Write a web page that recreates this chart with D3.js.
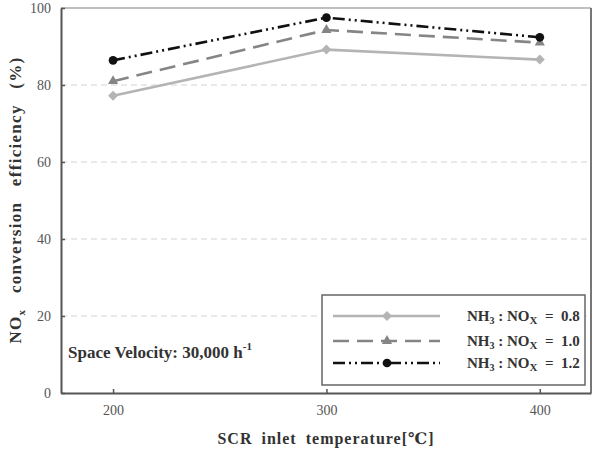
<!DOCTYPE html>
<html>
<head>
<meta charset="utf-8">
<title>NOx conversion efficiency</title>
<script src="https://d3js.org/d3.v7.min.js"></script>
<style>
  body { margin: 0; background: #fff; }
</style>
</head>
<body>
<div id="chart"></div>
<script>
// data
const temps = [200, 300, 400];
const ratio08 = [77.2, 89.2, 86.6];
const ratio10 = [81.0, 94.3, 91.0];
const ratio12 = [86.4, 97.5, 92.4];
const yTicks = [0, 20, 40, 60, 80, 100];
const seriesNames = ["0.8", "1.0", "1.2"];

const W = 599, H = 450;
const margin = {top: 8, right: 8, bottom: 57, left: 61};
const w = W - margin.left - margin.right;
const h = H - margin.top - margin.bottom;

const svg = d3.select("#chart").append("svg")
    .attr("width", W).attr("height", H)
    .style("font-family", "'Liberation Serif', 'DejaVu Serif', serif");

const g = svg.append("g")
    .attr("transform", "translate(" + margin.left + "," + margin.top + ")");

const x = d3.scaleLinear().domain([175.6, 424]).range([0, w]);
const y = d3.scaleLinear().domain([0, 100]).range([h, 0]);

// gridlines
g.selectAll(".grid").data(yTicks.filter(d => d > 0 && d < 100)).enter()
  .append("line")
    .attr("x1", 0).attr("x2", w)
    .attr("y1", d => y(d)).attr("y2", d => y(d))
    .attr("stroke", "#d4d4d4").attr("stroke-width", 1.2)
    .attr("stroke-dasharray", "6,4");

// frame top / right
g.append("line").attr("x1", 0).attr("x2", w).attr("y1", 0).attr("y2", 0)
  .attr("stroke", "#aaa").attr("stroke-width", 1.5);
g.append("line").attr("x1", w).attr("x2", w).attr("y1", 0).attr("y2", h)
  .attr("stroke", "#777").attr("stroke-width", 2);

// axes
const xAxis = d3.axisBottom(x).tickValues(temps).tickSize(-4).tickSizeOuter(0).tickPadding(12);
const yAxis = d3.axisLeft(y).tickValues(yTicks).tickSize(4).tickSizeOuter(0).tickPadding(6);

const gx = g.append("g").attr("transform", "translate(0," + h + ")").call(xAxis);
const gy = g.append("g").call(yAxis);
[gx, gy].forEach(a => {
  a.select(".domain").attr("stroke", "#555").attr("stroke-width", 2);
  a.selectAll(".tick line").attr("stroke", "#555").attr("stroke-width", 1.5);
  a.selectAll(".tick text").attr("fill", "#555").attr("font-size", "14px")
    .attr("font-family", "'Liberation Serif', serif");
});
gy.selectAll(".tick line").attr("x2", 4);

// series
const series = [
  {vals: ratio08, color: "#b4b4b4", dash: null, shape: d3.symbolSquare, size: 50, rot: 45},
  {vals: ratio10, color: "#858585", dash: "16,8", shape: d3.symbolTriangle, size: 45, rot: 0},
  {vals: ratio12, color: "#111", dash: "12,4,2,4,2,4", shape: d3.symbolCircle, size: 60, rot: 0}
];

const line = d3.line().x((d, i) => x(temps[i])).y(d => y(d));

series.forEach(s => {
  g.append("path").datum(s.vals)
    .attr("d", line)
    .attr("fill", "none")
    .attr("stroke", s.color)
    .attr("stroke-width", 2.6)
    .attr("stroke-dasharray", s.dash);
  g.selectAll(null).data(s.vals).enter().append("path")
    .attr("d", d3.symbol().type(s.shape).size(s.size))
    .attr("transform", (d, i) => "translate(" + x(temps[i]) + "," + y(d) + ") rotate(" + s.rot + ")")
    .attr("fill", s.color);
});

// legend
const lg = svg.append("g").attr("transform", "translate(322,295)");
lg.append("rect").attr("width", 263).attr("height", 90)
  .attr("fill", "#fff").attr("stroke", "#666").attr("stroke-width", 1.5);
const rowY = [21, 46, 68];
series.forEach((s, i) => {
  lg.append("line").attr("x1", 11).attr("x2", 118).attr("y1", rowY[i]).attr("y2", rowY[i])
    .attr("stroke", s.color).attr("stroke-width", 2.6).attr("stroke-dasharray", s.dash);
  lg.append("path").attr("d", d3.symbol().type(s.shape).size(s.size))
    .attr("transform", "translate(65," + rowY[i] + ") rotate(" + s.rot + ")").attr("fill", s.color);
  const t = lg.append("text").attr("x", 145).attr("y", rowY[i] + 5)
    .attr("font-size", "15px").attr("font-weight", "bold").attr("fill", "#333");
  t.append("tspan").text("NH");
  t.append("tspan").attr("font-size", "10px").attr("dy", 3).text("3");
  t.append("tspan").attr("dy", -3).text(" : NO");
  t.append("tspan").attr("font-size", "11px").attr("dy", 3).text("X");
  t.append("tspan").attr("dy", -3).attr("xml:space", "preserve").text("  =  " + seriesNames[i]);
});

// annotation
const sv = svg.append("text").attr("x", 68).attr("y", 358)
  .attr("font-size", "17px").attr("font-weight", "bold").attr("fill", "#333");
sv.append("tspan").text("Space Velocity: 30,000 h");
sv.append("tspan").attr("font-size", "11px").attr("dy", -8).text("-1");

// axis titles
svg.append("text").attr("x", 326).attr("y", 444)
  .attr("text-anchor", "middle").attr("font-size", "16px").attr("font-weight", "bold")
  .attr("fill", "#333").attr("letter-spacing", "1px").attr("word-spacing", "4px")
  .text("SCR inlet temperature[℃]");

const yl = svg.append("text")
  .attr("transform", "translate(21,200) rotate(-90)")
  .attr("text-anchor", "middle").attr("font-size", "17px").attr("font-weight", "bold")
  .attr("fill", "#333").attr("letter-spacing", "1.3px").attr("word-spacing", "10px");
yl.append("tspan").text("NO");
yl.append("tspan").attr("font-size", "11px").attr("dy", 4).text("x");
yl.append("tspan").attr("dy", -4).text(" conversion efficiency (%)");
</script>
</body>
</html>
